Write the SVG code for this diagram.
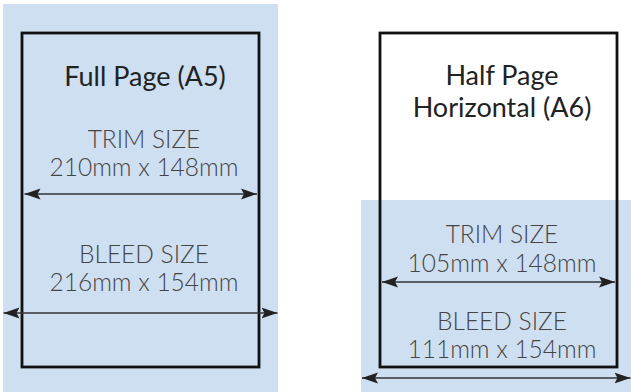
<svg xmlns="http://www.w3.org/2000/svg" width="631" height="392" viewBox="0 0 631 392">
<style>
.bg{fill:#cedff1}
.page{fill:none;stroke:#111;stroke-width:2.8}
.title{font-family:Lato,"Liberation Sans",sans-serif;font-size:27px;fill:#222;text-anchor:middle}
.lbl{font-family:Lato,"Liberation Sans",sans-serif;font-weight:300;font-size:24.5px;fill:#444;text-anchor:middle}
.arr{stroke:#333;stroke-width:1.6;fill:none;marker-start:url(#ah);marker-end:url(#ah)}
</style>
<defs>
<marker id="ah" markerUnits="userSpaceOnUse" viewBox="0 -6 17 12" refX="16" refY="0" markerWidth="17" markerHeight="12" orient="auto-start-reverse">
<path d="M0,-5.5 L16,0 L0,5.5 L3,0 Z" fill="#222"/>
</marker>
</defs>
<g id="full-page">
<rect class="bg" x="3" y="4" width="275" height="388"/>
<rect class="page" x="22" y="33" width="237" height="334"/>
<text class="title" x="145" y="86">Full Page (A5)</text>
<text class="lbl" x="144" y="148">TRIM SIZE</text>
<text class="lbl" x="144" y="176">210mm x 148mm</text>
<text class="lbl" x="144" y="263">BLEED SIZE</text>
<text class="lbl" x="144" y="291">216mm x 154mm</text>
</g>
<g id="half-page">
<rect class="bg" x="361" y="200" width="270" height="192"/>
<rect class="page" x="380" y="33" width="237" height="334"/>
<text class="title" x="502" y="85">Half Page</text>
<text class="title" x="502" y="117">Horizontal (A6)</text>
<text class="lbl" x="502" y="243">TRIM SIZE</text>
<text class="lbl" x="502" y="272">105mm x 148mm</text>
<text class="lbl" x="502" y="330">BLEED SIZE</text>
<text class="lbl" x="502" y="358">111mm x 154mm</text>
</g>
<g id="connectors">
<line class="arr" x1="24.5" y1="194" x2="257" y2="194"/>
<line class="arr" x1="3.5" y1="313" x2="277.5" y2="313"/>
<line class="arr" x1="382" y1="282" x2="615" y2="282"/>
<line class="arr" x1="362" y1="378" x2="630.5" y2="378"/>
</g>
</svg>
